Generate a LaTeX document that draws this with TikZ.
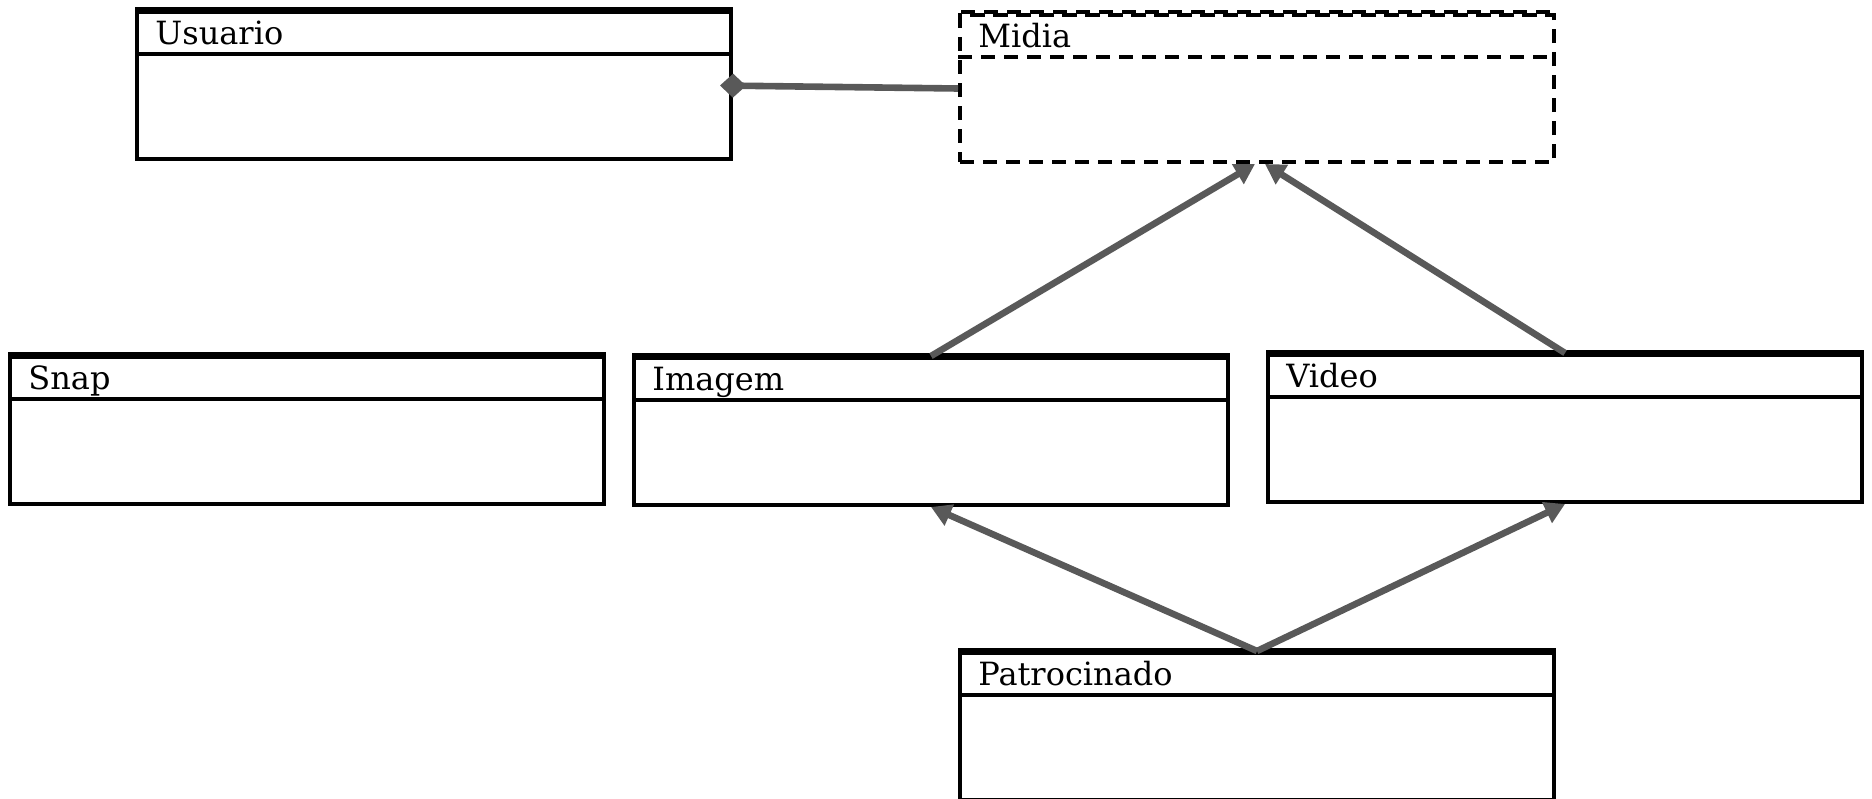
\documentclass[tikz,border=0pt]{standalone}
\usepackage{fontspec}
\setmainfont{DejaVu Serif}
\usetikzlibrary{arrows.meta,calc}
\definecolor{linkgray}{RGB}{89,89,89}
\begin{document}
\begin{tikzpicture}[x=0.5pt,y=-0.5pt,
  classbox/.style={draw=black,line width=2pt,minimum width=297pt,minimum height=73.5pt,
    inner sep=0pt,anchor=north west},
  abstractbox/.style={classbox,dash pattern=on 7pt off 4.5pt},
  classname/.style={anchor=base west,inner sep=0pt,font=\fontsize{16pt}{18pt}\selectfont},
  divider/.style={draw=black,line width=2pt},
  divdash/.style={divider,dash pattern=on 7pt off 4.5pt},
  topedge/.style={draw=black,line width=3pt},
  inherit/.style={draw=linkgray,line width=3.3pt,-{Triangle[length=10pt,width=11pt]}},
  compose/.style={draw=linkgray,line width=3.3pt,{Diamond[length=13pt,width=12pt]}-}
]
\useasboundingbox (0,0) rectangle (1872,798);

% class boxes
\node[classbox] (usuario) at (135,10) {};
\node[abstractbox] (midia) at (958,13) {};
\node[classbox] (snap) at (8,355) {};
\node[classbox] (imagem) at (632,356) {};
\node[classbox] (video) at (1266,353) {};
\node[classbox] (patro) at (958,651) {};

% solid title compartments
\foreach \b in {usuario,snap,imagem,video,patro}{
  \draw[topedge] (\b.north west) -- (\b.north east);
  \draw[divider] ([yshift=-22pt]\b.north west) -- ([yshift=-22pt]\b.north east);
}
% dashed title compartment of the abstract class (doubled top edge)
\draw[black,line width=2pt,dash pattern=on 7pt off 4.5pt,dash phase=5pt]
  ([yshift=-1pt]midia.north west) -- ([yshift=-1pt]midia.north east);
\draw[black,line width=2pt,dash pattern=on 7pt off 4.5pt,dash phase=10pt]
  ([yshift=0.5pt]midia.north west) -- ([yshift=0.5pt]midia.north east);
\draw[divdash] ([yshift=-22pt]midia.north west) -- ([yshift=-22pt]midia.north east);

% class names
\node[classname] (t-usuario) at ([xshift=10pt,yshift=-17pt]usuario.north west) {Usuario};
\node[classname] (t-midia) at ([xshift=10pt,yshift=-17pt]midia.north west) {Midia};
\node[classname] (t-snap) at ([xshift=10pt,yshift=-17pt]snap.north west) {Snap};
\node[classname] (t-imagem) at ([xshift=10pt,yshift=-17pt]imagem.north west) {Imagem};
\node[classname] (t-video) at ([xshift=10pt,yshift=-17pt]video.north west) {Video};
\node[classname] (t-patro) at ([xshift=10pt,yshift=-17pt]patro.north west) {Patrocinado};

% composition, diamond centred on the owner's border
\coordinate (own) at ([xshift=-6.5pt]usuario.east);
\draw[compose] (own) -- (midia.west);

% generalisations
\draw[inherit] (imagem.north) -- ([xshift=-1pt]midia.south);
\draw[inherit] (video.north) -- ([xshift=4pt]midia.south);
\draw[inherit] (patro.north) -- (imagem.south);
\draw[inherit] (patro.north) -- (video.south);
\end{tikzpicture}
\end{document}
